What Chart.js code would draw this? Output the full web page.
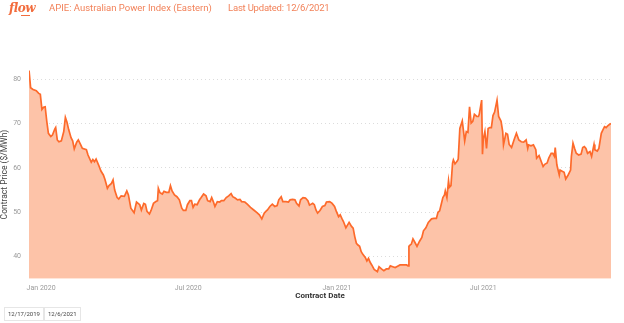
<!DOCTYPE html>
<html>
<head>
<meta charset="utf-8">
<script src="https://cdn.jsdelivr.net/npm/chart.js@4.4.0/dist/chart.umd.min.js"></script>
<style>
  html, body { margin: 0; padding: 0; background: #fff; width: 624px; height: 323px; overflow: hidden; font-family: Roboto, 'Open Sans', sans-serif; }
  #wrap { position: relative; width: 624px; height: 323px; }
  #chart { position: absolute; left: 0; top: 0; }
  .logo { position: absolute; left: 9px; top: 1px; font: italic bold 12px 'DejaVu Serif', serif; color: #f26c3d; letter-spacing: -0.5px; }
  .logo-line { position: absolute; left: 21px; top: 15px; width: 9px; height: 1px; background: #f26c3d; }
  .hdr { position: absolute; top: 2px; font-size: 9.5px; color: #f2825a; white-space: nowrap; }
  .datebox { position: absolute; top: 307px; height: 12px; line-height: 12px; border: 1px solid #e6e6e6; font-size: 6px; color: #444; padding: 0 3px; }
</style>
</head>
<body>
<div id="wrap">
  <canvas id="chart" width="624" height="323"></canvas>
  <div class="logo">flow</div>
  <div class="logo-line"></div>
  <div class="hdr" style="left:49px">APIE: Australian Power Index (Eastern)</div>
  <div class="hdr" style="left:228px; letter-spacing:-0.2px">Last Updated: 12/6/2021</div>
  <div class="datebox" style="left:4px">12/17/2019</div>
  <div class="datebox" style="left:44px">12/6/2021</div>
</div>
<script>
// contract dates and prices ($/MWh)
const contractDates = [
  '2019-12-17','2019-12-19','2019-12-22','2019-12-26','2019-12-29','2019-12-31',
  '2020-01-02','2020-01-04','2020-01-06','2020-01-08','2020-01-10','2020-01-13','2020-01-15','2020-01-18','2020-01-19',
  '2020-01-21','2020-01-23','2020-01-26','2020-01-29','2020-01-31','2020-02-02','2020-02-04','2020-02-07','2020-02-09',
  '2020-02-11','2020-02-14','2020-02-16','2020-02-19','2020-02-21','2020-02-26','2020-02-28','2020-03-03','2020-03-05',
  '2020-03-07','2020-03-09','2020-03-12','2020-03-15','2020-03-18','2020-03-20','2020-03-23','2020-03-25','2020-03-28',
  '2020-03-30','2020-04-01','2020-04-04','2020-04-06','2020-04-09','2020-04-13','2020-04-16','2020-04-18','2020-04-21',
  '2020-04-25','2020-04-28','2020-05-02','2020-05-04','2020-05-07','2020-05-09','2020-05-11','2020-05-14','2020-05-16',
  '2020-05-19','2020-05-22','2020-05-24','2020-05-25','2020-05-27','2020-05-30','2020-06-01','2020-06-04','2020-06-07',
  '2020-06-09','2020-06-11','2020-06-14','2020-06-17','2020-06-20','2020-06-23','2020-06-25','2020-06-28','2020-06-30',
  '2020-07-03','2020-07-05','2020-07-07','2020-07-09','2020-07-12','2020-07-15','2020-07-17','2020-07-20','2020-07-23',
  '2020-07-25','2020-07-28','2020-07-30','2020-08-01','2020-08-03','2020-08-06','2020-08-09','2020-08-11','2020-08-14',
  '2020-08-17','2020-08-20','2020-08-23','2020-08-25','2020-08-28','2020-08-31','2020-09-03','2020-09-05','2020-09-09',
  '2020-09-12','2020-09-16','2020-09-20','2020-09-24','2020-09-27','2020-09-30','2020-10-03','2020-10-05','2020-10-07',
  '2020-10-10','2020-10-13','2020-10-16','2020-10-19','2020-10-21','2020-10-24','2020-10-26','2020-10-30','2020-11-02',
  '2020-11-04','2020-11-07','2020-11-10','2020-11-12','2020-11-15','2020-11-17','2020-11-20','2020-11-23','2020-11-26',
  '2020-11-28','2020-12-02','2020-12-04','2020-12-06','2020-12-08','2020-12-11','2020-12-14','2020-12-17','2020-12-19',
  '2020-12-23','2020-12-26','2020-12-29','2020-12-31','2021-01-03','2021-01-05','2021-01-07','2021-01-09','2021-01-12',
  '2021-01-14','2021-01-16','2021-01-19','2021-01-21','2021-01-23','2021-01-25','2021-01-27','2021-01-29','2021-01-31',
  '2021-02-02','2021-02-05','2021-02-07','2021-02-09','2021-02-11','2021-02-13','2021-02-16','2021-02-20','2021-02-22',
  '2021-02-25','2021-02-28','2021-03-03','2021-03-06','2021-03-08','2021-03-11','2021-03-14','2021-03-17','2021-03-20',
  '2021-03-23','2021-03-28','2021-03-30','2021-03-31','2021-04-01','2021-04-03','2021-04-05','2021-04-08','2021-04-10',
  '2021-04-13','2021-04-16','2021-04-18','2021-04-21','2021-04-24','2021-04-28','2021-05-01','2021-05-04','2021-05-06',
  '2021-05-08','2021-05-10','2021-05-12','2021-05-14','2021-05-15','2021-05-17','2021-05-19','2021-05-20','2021-05-22',
  '2021-05-24','2021-05-25','2021-05-27','2021-05-30','2021-05-31','2021-06-02','2021-06-05','2021-06-08','2021-06-10',
  '2021-06-12','2021-06-14','2021-06-16','2021-06-18','2021-06-20','2021-06-23','2021-06-25','2021-06-26','2021-06-29',
  '2021-06-30','2021-07-01','2021-07-03','2021-07-05','2021-07-07','2021-07-09','2021-07-11','2021-07-13','2021-07-15',
  '2021-07-18','2021-07-20','2021-07-23','2021-07-25','2021-07-26','2021-07-29','2021-07-31','2021-08-02','2021-08-03',
  '2021-08-05','2021-08-08','2021-08-11','2021-08-14','2021-08-17','2021-08-20','2021-08-23','2021-08-25','2021-08-26',
  '2021-08-29','2021-09-01','2021-09-04','2021-09-05','2021-09-08','2021-09-10','2021-09-13','2021-09-15','2021-09-18',
  '2021-09-20','2021-09-23','2021-09-25','2021-09-27','2021-09-28','2021-09-30','2021-10-03','2021-10-04','2021-10-06',
  '2021-10-09','2021-10-11','2021-10-14','2021-10-17','2021-10-18','2021-10-20','2021-10-22','2021-10-24','2021-10-27',
  '2021-10-30','2021-11-01','2021-11-03','2021-11-05','2021-11-07','2021-11-10','2021-11-12','2021-11-15','2021-11-16',
  '2021-11-19','2021-11-21','2021-11-24','2021-11-26','2021-11-28','2021-11-30','2021-12-02','2021-12-04','2021-12-06'
];
const contractPrices = [
  82.1, 78.1, 77.7, 77.4, 76.8, 76.6,
  73.2, 73.7, 73.8, 70.5, 67.8, 67.1, 67.4, 68.8, 69.1,
  66.3, 65.9, 66.1, 68.2, 71.4, 70.3, 68.7, 66.8, 66.1,
  64.3, 65.8, 66.3, 65.2, 64.4, 64.1, 62.9, 61.3, 61.9,
  61.4, 62.0, 60.7, 59.3, 58.4, 57.4, 55.4, 56.0, 56.5,
  57.3, 55.0, 53.3, 53.0, 53.7, 53.6, 54.8, 53.9, 50.9,
  49.9, 52.3, 51.7, 50.5, 52.0, 51.8, 50.2, 49.6, 50.4,
  52.0, 52.4, 52.6, 55.4, 54.4, 54.1, 54.7, 54.5, 54.5,
  56.0, 54.8, 53.9, 53.5, 52.8, 50.9, 50.4, 50.4, 51.7,
  52.6, 52.6, 51.1, 51.8, 51.7, 52.8, 53.3, 54.1, 53.7,
  52.6, 52.4, 53.3, 52.4, 51.3, 52.4, 52.3, 52.6, 52.6,
  53.3, 53.7, 54.2, 53.5, 53.2, 52.8, 52.9, 52.4, 52.3,
  51.8, 51.1, 50.5, 49.9, 49.4, 48.5, 49.8, 50.2, 50.5,
  51.3, 51.8, 51.3, 51.5, 52.8, 53.5, 52.4, 52.4, 52.3,
  52.8, 52.9, 52.8, 52.0, 51.4, 52.8, 53.3, 53.2, 52.6,
  51.6, 52.0, 51.7, 50.5, 49.8, 50.4, 51.3, 51.5, 52.3,
  52.4, 52.0, 51.3, 50.3, 49.0, 49.4, 48.6, 47.9, 46.5,
  47.1, 47.7, 46.8, 46.4, 44.5, 43.0, 42.6, 42.3, 41.1,
  40.5, 39.8, 39.0, 39.6, 38.7, 38.1, 37.1, 36.6, 37.7,
  37.2, 36.8, 37.2, 37.2, 37.9, 37.7, 37.5, 37.8, 38.1,
  38.1, 38.1, 37.9, 42.3, 42.5, 42.8, 44.0, 43.0, 42.3,
  43.4, 44.3, 45.8, 46.5, 47.7, 48.5, 48.6, 48.6, 50.0,
  50.3, 51.8, 53.3, 53.9, 54.8, 53.3, 57.1, 55.6, 56.0,
  61.1, 61.8, 60.9, 61.6, 62.0, 68.9, 70.6, 66.1, 68.2,
  68.0, 73.8, 70.1, 70.5, 72.1, 71.6, 71.6, 72.1, 75.3,
  63.1, 66.5, 68.2, 64.4, 68.9, 69.1, 69.1, 71.8, 72.6,
  75.3, 71.6, 70.5, 68.2, 65.2, 67.8, 67.6, 65.3, 65.3,
  64.6, 66.3, 67.8, 66.3, 65.9, 65.8, 66.3, 64.4, 65.2,
  65.0, 65.2, 64.1, 62.2, 62.8, 61.8, 60.3, 60.8, 61.1,
  62.2, 63.3, 63.3, 62.6, 64.6, 60.7, 58.4, 59.5, 59.3,
  59.0, 57.5, 58.4, 59.5, 62.6, 65.6, 64.4, 63.3, 62.9,
  63.1, 64.6, 64.8, 64.4, 63.3, 63.7, 62.6, 65.3, 64.1,
  63.8, 64.4, 67.8, 68.6, 69.3, 69.1, 69.5, 69.8, 70.0
];
const xTickDates = ['2020-01-01', '2020-07-01', '2021-01-01', '2021-07-01'];
const xTickLabels = ['Jan 2020', 'Jul 2020', 'Jan 2021', 'Jul 2021'];
const yTicks = [40, 50, 60, 70, 80];

const ts = d => new Date(d).getTime();

const points = contractDates.map((d, i) => ({ x: ts(d), y: contractPrices[i] }));

new Chart(document.getElementById('chart'), {
  type: 'line',
  data: {
    datasets: [{
      data: points,
      borderColor: '#fd6a2b',
      backgroundColor: '#fdc3a8',
      borderWidth: 1.7,
      pointRadius: 0,
      tension: 0,
      fill: 'start'
    }]
  },
  options: {
    responsive: false,
    animation: false,
    devicePixelRatio: 1,
    layout: { padding: { left: 0, top: 70.4, right: 13, bottom: 22.3 } },
    plugins: { legend: { display: false }, tooltip: { enabled: false } },
    scales: {
      x: {
        type: 'linear',
        min: ts(contractDates[0]),
        max: ts(contractDates[contractDates.length - 1]),
        afterBuildTicks: s => { s.ticks = xTickDates.map(d => ({ value: ts(d) })); },
        afterFit: s => { s.height = 22; },
        grid: { display: false, drawTicks: false },
        border: { display: false },
        ticks: {
          autoSkip: false,
          maxRotation: 0,
          padding: 5,
          color: '#9a9a9a',
          font: { family: 'Roboto', size: 7 },
          callback: v => xTickLabels[xTickDates.map(ts).indexOf(v)]
        },
        title: {
          display: true,
          text: 'Contract Date',
          color: '#333',
          padding: 0,
          font: { family: 'Roboto', size: 8, weight: 'bold' }
        }
      },
      y: {
        min: 35,
        max: 82,
        afterBuildTicks: s => { s.ticks = yTicks.map(v => ({ value: v })); },
        afterFit: s => { s.width = 29; },
        grid: { color: '#dcdcdc', lineWidth: 1, drawTicks: false },
        border: { display: false, dash: [1, 3] },
        ticks: {
          padding: 8,
          color: '#9a9a9a',
          font: { family: 'Roboto', size: 7 }
        },
        title: {
          display: true,
          text: 'Contract Price ($/MWh)',
          color: '#444',
          padding: 0,
          font: { family: 'Roboto', size: 8.5 }
        }
      }
    }
  }
});
</script>
</body>
</html>
